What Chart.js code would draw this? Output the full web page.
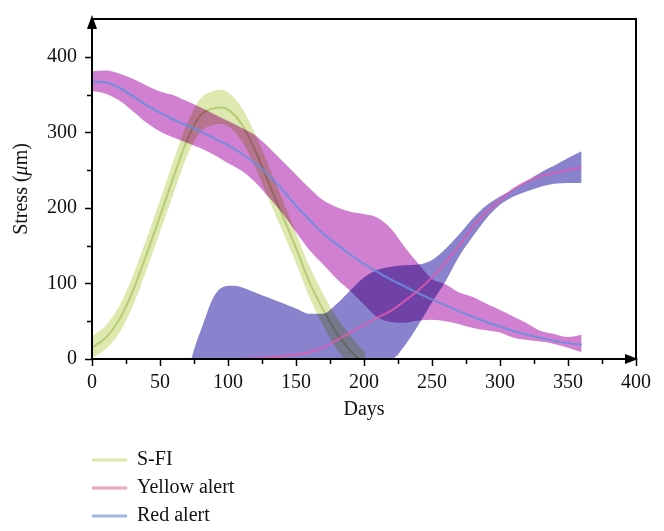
<!DOCTYPE html>
<html>
<head>
<meta charset="utf-8">
<script src="https://cdn.jsdelivr.net/npm/chart.js@4/dist/chart.umd.min.js"></script>
<style>
    html, body { margin: 0; padding: 0; background: #fff; }
    #wrap { width: 664px; height: 531px; }
</style>
</head>
<body>
<div id="wrap"><canvas id="chart" width="664" height="531"></canvas></div>
<script>
const FONT = '"Liberation Serif", "Times New Roman", serif';

// S-FI (green band + line)
const sfiDays = [0, 10, 20, 30, 40, 50, 60, 70, 80, 90, 95, 100, 110, 120, 130, 140, 150, 160, 170, 180, 190, 196, 201];
const sfiMean = [15, 28, 52, 90, 138, 189, 241, 290, 323, 332, 333, 330, 311, 276, 233, 190, 147, 101, 65, 34, 11, 0, -8];
const sfiHigh = [30, 44, 70, 110, 159, 210, 263, 312, 345, 355, 356, 353, 333, 298, 255, 211, 167, 122, 86, 55, 31, 18, 8];
const sfiLow = [1, 13, 34, 70, 117, 168, 219, 269, 301, 310, 311, 308, 289, 254, 211, 169, 127, 81, 44, 13, -9, -20, -28];

// Red alert (blue line, magenta band)
const redDays = [0, 10, 20, 30, 40, 50, 60, 70, 80, 90, 100, 110, 120, 130, 140, 150, 160, 170, 180, 190,
    200, 210, 220, 230, 240, 250, 260, 270, 280, 290, 300, 310, 320, 330, 340, 350, 360];
const redMean = [367, 366, 359, 348, 336, 326, 317, 309, 301, 292, 283, 272, 259, 243, 224, 203, 184, 166, 152, 138,
    126, 115, 105, 96, 87, 79, 71, 63, 56, 49, 43, 37, 32, 28, 24, 21, 19];
const redHigh = [381, 382, 378, 371, 362, 354, 349, 341, 333, 324, 315, 306, 296, 280, 262, 244, 226, 210, 201, 195,
    192, 187, 172, 148, 126, 106, 99, 88, 82, 73, 65, 56, 47, 37, 33, 29, 32];
const redLow = [355, 351, 342, 328, 313, 301, 293, 286, 279, 270, 259, 249, 234, 214, 193, 168, 144, 125, 106, 90,
    72, 55, 49, 48, 51, 52, 50, 46, 41, 38, 35, 28, 25, 23, 20, 15, 9];

// Yellow alert (pink line, purple band)
const yellowBandDays = [73, 76, 80, 84, 88, 92, 96, 100, 105, 110, 120, 130, 140, 150, 160, 170, 180, 190, 200,
    210, 220, 230, 240, 250, 260, 270, 280, 290, 300, 310, 320, 330, 340, 350, 360];
const yellowHigh = [0, 18, 38, 58, 77, 89, 95, 97, 97, 95, 88, 81, 74, 67, 60, 60, 73, 91, 108,
    118, 122, 124, 125, 131, 146, 165, 186, 203, 215, 225, 236, 247, 256, 266, 275];
const yellowLow = [0, 0, 0, 0, 0, 0, 0, 0, 0, 0, 0, 0, 0, 0, 0, 0, 0, 0, 0,
    0, 0, 18, 45, 75, 103, 136, 162, 186, 204, 215, 222, 228, 232, 233, 233];
const yellowDays = [110, 120, 130, 140, 150, 160, 170, 180, 190, 200, 210, 220, 230, 240, 250, 260, 270, 280, 290,
    300, 310, 320, 330, 340, 350, 360];
const yellowMean = [0, 1, 2, 4, 6, 9, 15, 25, 35, 45, 55, 64, 77, 91, 108, 128, 150, 175, 195,
    210, 225, 235, 242, 246, 250, 253];

const xTicks = [0, 50, 100, 150, 200, 250, 300, 350, 400];
const yTicks = [0, 100, 200, 300, 400];
const legendLabels = ['S-FI', 'Yellow alert', 'Red alert'];

function pts(days, vals) {
    return days.map(function (d, i) { return {x: d, y: vals[i]}; });
}

function band(label, days, vals, color, fill) {
    return {
        label: label, data: pts(days, vals),
        borderColor: 'rgba(0,0,0,0)', borderWidth: 0, backgroundColor: color,
        fill: fill, pointRadius: 0, cubicInterpolationMode: 'monotone'
    };
}

function line(label, days, vals, color, width) {
    return {
        label: label, data: pts(days, vals),
        borderColor: color, borderWidth: width, fill: false,
        pointRadius: 0, cubicInterpolationMode: 'monotone'
    };
}

// index 0 and 1 are drawn last, on top, without blending
const datasets = [
    line('Yellow alert', yellowDays, yellowMean, 'rgba(222,92,178,0.85)', 2),
    line('Red alert', redDays, redMean, 'rgba(104,142,222,0.9)', 2),
    band('Yellow alert high', yellowBandDays, yellowHigh, 'rgb(137,130,204)', '+1'),
    band('Yellow alert low', yellowBandDays, yellowLow, 'rgb(137,130,204)', false),
    band('Red alert high', redDays, redHigh, 'rgb(209,127,208)', '+1'),
    band('Red alert low', redDays, redLow, 'rgb(209,127,208)', false),
    line('S-FI', sfiDays, sfiMean, 'rgb(212,222,170)', 2),
    band('S-FI high', sfiDays, sfiHigh, 'rgb(222,233,176)', '+1'),
    band('S-FI low', sfiDays, sfiLow, 'rgb(222,233,176)', false)
];

const blendPlugin = {
    id: 'blend',
    beforeDatasetsDraw: function (chart) {
        chart.ctx.globalCompositeOperation = 'multiply';
    },
    beforeDatasetDraw: function (chart, args) {
        chart.ctx.globalCompositeOperation = args.index <= 1 ? 'source-over' : 'multiply';
    },
    afterDatasetsDraw: function (chart) {
        chart.ctx.globalCompositeOperation = 'source-over';
    }
};

const axesPlugin = {
    id: 'axesDeco',
    afterDraw: function (chart) {
        const ctx = chart.ctx;
        const a = chart.chartArea;
        const xs = chart.scales.x, ys = chart.scales.y;
        ctx.save();
        ctx.globalCompositeOperation = 'source-over';
        ctx.strokeStyle = '#000';
        ctx.fillStyle = '#000';
        ctx.lineWidth = 2;
        ctx.beginPath();
        ctx.moveTo(a.left, a.bottom); ctx.lineTo(a.right - 6, a.bottom);
        ctx.moveTo(a.left, a.bottom); ctx.lineTo(a.left, a.top + 6);
        ctx.moveTo(a.left, a.top); ctx.lineTo(a.right, a.top); ctx.lineTo(a.right, a.bottom);
        ctx.stroke();
        // arrows
        ctx.beginPath();
        ctx.moveTo(a.right + 2, a.bottom); ctx.lineTo(a.right - 11, a.bottom - 5); ctx.lineTo(a.right - 11, a.bottom + 5);
        ctx.closePath(); ctx.fill();
        ctx.beginPath();
        ctx.moveTo(a.left, a.top - 4); ctx.lineTo(a.left - 5, a.top + 10); ctx.lineTo(a.left + 5, a.top + 10);
        ctx.closePath(); ctx.fill();
        // ticks
        ctx.lineWidth = 1.5;
        ctx.beginPath();
        for (let v = 0; v <= 400; v += 25) {
            const px = Math.round(xs.getPixelForValue(v)) + 0.5;
            ctx.moveTo(px, a.bottom); ctx.lineTo(px, a.bottom + (v % 50 === 0 ? 7 : 5));
        }
        for (let v = 0; v <= 400; v += 50) {
            const py = Math.round(ys.getPixelForValue(v)) + 0.5;
            ctx.moveTo(a.left, py); ctx.lineTo(a.left - (v % 100 === 0 ? 7 : 5), py);
        }
        ctx.stroke();

        // axis titles
        ctx.fillStyle = '#111';
        ctx.font = '20px ' + FONT;
        ctx.textBaseline = 'middle';
        ctx.textAlign = 'center';
        ctx.fillText('Days', (a.left + a.right) / 2, 410);

        ctx.save();
        ctx.translate(22, (a.top + a.bottom) / 2);
        ctx.rotate(-Math.PI / 2);
        const parts = [['Stress (', ''], ['\u03bc', 'italic '], ['m)', '']];
        let total = 0;
        parts.forEach(function (p) { ctx.font = p[1] + '20px ' + FONT; total += ctx.measureText(p[0]).width; });
        let xx = -total / 2;
        ctx.textAlign = 'left';
        parts.forEach(function (p) {
            ctx.font = p[1] + '20px ' + FONT;
            ctx.fillText(p[0], xx, 0);
            xx += ctx.measureText(p[0]).width;
        });
        ctx.restore();

        // legend
        const swatch = ['rgb(218,232,168)', 'rgb(236,166,182)', 'rgb(160,182,228)'];
        ctx.font = '20px ' + FONT;
        ctx.textAlign = 'left';
        ctx.lineWidth = 3;
        legendLabels.forEach(function (lab, i) {
            const y = 460 + i * 28;
            ctx.strokeStyle = swatch[i];
            ctx.beginPath(); ctx.moveTo(92, y); ctx.lineTo(127, y); ctx.stroke();
            ctx.fillStyle = '#111';
            ctx.fillText(lab, 137, y);
        });
        ctx.restore();
    }
};

new Chart(document.getElementById('chart'), {
    type: 'line',
    data: {datasets: datasets},
    options: {
        responsive: false,
        animation: false,
        devicePixelRatio: 1,
        layout: {padding: {top: 7, right: 28, left: 0, bottom: 0}},
        plugins: {legend: {display: false}, tooltip: {enabled: false}},
        scales: {
            x: {
                type: 'linear', min: 0, max: 400,
                grid: {display: false}, border: {display: false},
                afterFit: function (s) { s.height = 172; },
                ticks: {
                    stepSize: 50, autoSkip: false, maxRotation: 0, padding: 4, color: '#111',
                    font: {family: FONT, size: 20},
                    callback: function (v) { return xTicks.indexOf(v) >= 0 ? String(v) : null; }
                }
            },
            y: {
                type: 'linear', min: 0, max: 450,
                grid: {display: false}, border: {display: false},
                afterFit: function (s) { s.width = 92; },
                ticks: {
                    stepSize: 50, padding: 7, color: '#111',
                    font: {family: FONT, size: 20},
                    callback: function (v) { return yTicks.indexOf(v) >= 0 ? String(v) : null; }
                }
            }
        }
    },
    plugins: [blendPlugin, axesPlugin]
});
</script>
</body>
</html>
